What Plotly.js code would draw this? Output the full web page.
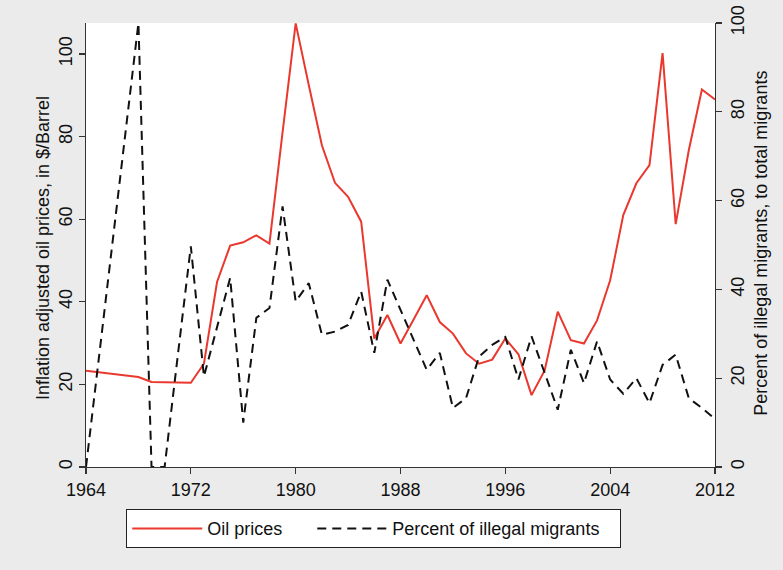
<!DOCTYPE html>
<html>
<head>
<meta charset="utf-8">
<script src="https://cdn.plot.ly/plotly-3.0.1.min.js"></script>
<style>html,body{margin:0;padding:0;background:#ebebeb;}#chart{width:783px;height:570px;}</style>
</head>
<body>
<div id="chart"></div>
<script>
var years = [1964,1965,1966,1967,1968,1969,1970,1971,1972,1973,1974,1975,1976,1977,1978,1979,1980,1981,1982,1983,1984,1985,1986,1987,1988,1989,1990,1991,1992,1993,1994,1995,1996,1997,1998,1999,2000,2001,2002,2003,2004,2005,2006,2007,2008,2009,2010,2011,2012];
var oilPrices = [23.3,22.9,22.6,22.2,21.8,20.6,20.5,20.4,20.4,25.0,44.8,53.6,54.4,56.1,54.1,81.0,107.4,92.5,77.9,68.8,65.4,59.4,31.1,36.8,29.9,35.7,41.6,35.1,32.3,27.5,25.0,26.0,31.1,27.3,17.4,23.4,37.6,30.7,29.9,35.5,45.2,61.0,68.7,73.1,100.2,58.8,76.7,91.4,89.0];
var illegalPct = [0,25,50,75,100,0,0,25,49.7,20.4,31.7,42.6,10.0,33.6,35.8,58.7,37.3,41.4,29.8,30.5,32.0,39.5,25.7,42.2,35.4,28.6,21.9,25.7,13.3,15.5,24.9,27.5,29.3,19.7,29.4,21.2,12.9,26.4,18.9,28.3,19.7,16.5,20.0,14.4,23.0,25.3,15.5,13.3,10.8];
var seriesNames = ["Oil prices", "Percent of illegal migrants"];
var axisTitles = ["Inflation adjusted oil prices, in $/Barrel", "Percent of illegal migrants, to total migrants"];
var xTicks = [1964,1972,1980,1988,1996,2004,2012];
var leftTicks = [0,20,40,60,80,100];
var rightTicks = [0,20,40,60,80,100];

var fontFam = "Liberation Sans, Arial, Helvetica, sans-serif";
var nb = "\u00a0";
var traces = [
  {x: years, y: oilPrices, name: seriesNames[0] + nb.repeat(5), type: "scatter", mode: "lines",
   line: {color: "rgb(234,56,46)", width: 2}, yaxis: "y"},
  {x: years, y: illegalPct, name: seriesNames[1] + nb.repeat(3), type: "scatter", mode: "lines",
   line: {color: "#111", width: 2, dash: "9px,6px"}, yaxis: "y2"}
];
var axisCommon = {showgrid: false, zeroline: false, showline: true, linecolor: "#333", linewidth: 1.3,
  ticks: "outside", ticklen: 6, tickcolor: "#333", tickwidth: 1.3,
  tickfont: {family: fontFam, size: 18, color: "#111"}};
var layout = {
  width: 783, height: 570,
  paper_bgcolor: "#ebebeb", plot_bgcolor: "#ffffff",
  margin: {l: 86, r: 68, t: 23, b: 103},
  font: {family: fontFam, size: 18, color: "#111"},
  showlegend: true,
  legend: {orientation: "h", x: 0.064, y: -0.095, xanchor: "left", yanchor: "top",
    bgcolor: "#ffffff", bordercolor: "#222", borderwidth: 1,
    font: {family: fontFam, size: 18, color: "#111"}, itemwidth: 70},
  xaxis: Object.assign({}, axisCommon, {range: [1964, 2012], tickvals: xTicks, ticktext: xTicks.map(String)}),
  yaxis: Object.assign({}, axisCommon, {range: [0, 107.5], tickvals: leftTicks, tickangle: -90}),
  yaxis2: Object.assign({}, axisCommon, {range: [0, 100], tickvals: rightTicks, tickangle: -90,
    overlaying: "y", side: "right"}),
  annotations: [
    {text: axisTitles[0], xref: "paper", yref: "paper", x: -0.0684, y: 0.493, xanchor: "center", yanchor: "middle",
     textangle: -90, showarrow: false, font: {family: fontFam, size: 18, color: "#111"}},
    {text: axisTitles[1], xref: "paper", yref: "paper", x: 1.0731, y: 0.505, xanchor: "center", yanchor: "middle",
     textangle: -90, showarrow: false, font: {family: fontFam, size: 18, color: "#111"}}
  ]
};
Plotly.newPlot("chart", traces, layout, {displayModeBar: false, staticPlot: true});
</script>
</body>
</html>
